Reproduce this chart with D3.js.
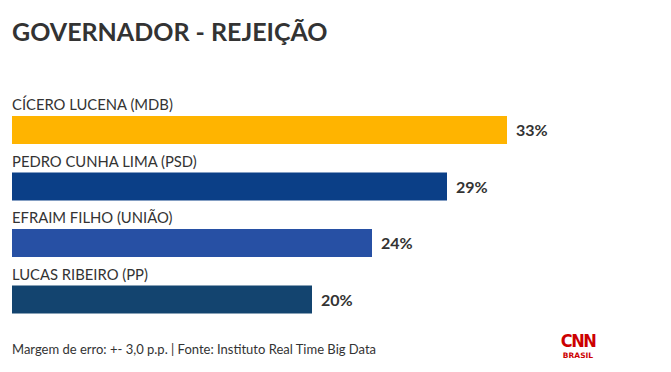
<!DOCTYPE html>
<html lang="pt-br">
<head>
  <meta charset="utf-8">
  <title>Governador - Rejeição</title>
  <script src="https://d3js.org/d3.v7.min.js"></script>
  <style>
    body { margin: 0; background: #fff; }
    text { font-family: Lato, "Open Sans", sans-serif; }
  </style>
</head>
<body>
  <div id="chart"></div>

  <script type="text/javascript">
    "use strict"

    var candidatos = ["CÍCERO LUCENA (MDB)", "PEDRO CUNHA LIMA (PSD)", "EFRAIM FILHO (UNIÃO)", "LUCAS RIBEIRO (PP)"];
    var rejeicao = [33, 29, 24, 20];
    var cores = ["#ffb400", "#0b3f87", "#2750a4", "#13446f"];

    var larguraSVG = 671, alturaSVG = 372;

    var svg = d3.select('#chart')
      .append('svg')
        .attr('width', larguraSVG)
        .attr('height', alturaSVG);

    // titulo
    svg.append('text')
      .attr('x', 12).attr('y', 41)
      .attr('font-size', 25)
      .attr('font-weight', 'bold')
      .attr('fill', '#333')
      .text('GOVERNADOR - REJEIÇÃO');

    /*
     * escalas
     */
    var x = d3.scaleLinear()
      .domain([0, 33])
      .range([12, 507]);

    var y = d3.scaleBand()
      .domain(candidatos)
      .range([96, 322])
      .paddingInner(0);

    var dados = candidatos.map((c, i) => ({nome: c, valor: rejeicao[i], cor: cores[i]}));

    var grupo = svg.selectAll('g.barra')
      .data(dados)
      .enter()
      .append('g')
        .attr('class', 'barra')
        .attr('transform', d => 'translate(0,' + y(d.nome) + ')');

    grupo.append('text')
      .attr('x', 12)
      .attr('y', 14)
      .attr('font-size', 14.8)
      .attr('fill', '#333')
      .text(d => d.nome);

    grupo.append('rect')
      .attr('x', x(0))
      .attr('y', 20)
      .attr('width', d => x(d.valor) - x(0))
      .attr('height', 28)
      .attr('fill', d => d.cor);

    grupo.append('text')
      .attr('x', d => x(d.valor) + 9)
      .attr('y', 40)
      .attr('font-size', 16)
      .attr('font-weight', 'bold')
      .attr('fill', '#333')
      .text(d => d.valor + '%');

    // rodape
    svg.append('text')
      .attr('x', 12).attr('y', 354)
      .attr('font-size', 13)
      .attr('fill', '#333')
      .text('Margem de erro: +- 3,0 p.p. | Fonte: Instituto Real Time Big Data');

    // logo CNN
    svg.append('text')
      .attr('x', 578).attr('y', 347)
      .attr('text-anchor', 'middle')
      .attr('font-size', 18)
      .attr('font-weight', 'bold')
      .attr('letter-spacing', -1.5)
      .attr('fill', '#cc0000')
      .style('font-family', '"DejaVu Sans Condensed", sans-serif')
      .text('CNN');

    svg.append('text')
      .attr('x', 578).attr('y', 358)
      .attr('text-anchor', 'middle')
      .attr('font-size', 7.5)
      .attr('font-weight', 'bold')
      .attr('fill', '#cc0000')
      .style('font-family', '"DejaVu Sans", sans-serif')
      .text('BRASIL');
  </script>
</body>
</html>
